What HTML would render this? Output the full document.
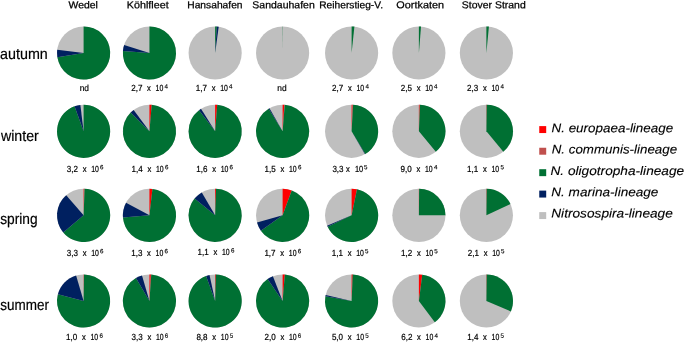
<!DOCTYPE html>
<html lang="en"><head><meta charset="utf-8"><title>AOB lineage pie charts</title>
<style>
html,body{margin:0;padding:0;background:#fff;}
svg{display:block;}
.v{stroke:#000;stroke-width:0.2px;}
.h{stroke:#000;stroke-width:0.25px;}
.r{stroke:#000;stroke-width:0.2px;}
.l{stroke:#000;stroke-width:0.12px;}
text{font-family:"Liberation Sans",sans-serif;fill:#000;text-rendering:geometricPrecision;}
</style></head>
<body>
<svg width="685" height="343" viewBox="0 0 685 343">
<rect width="685" height="343" fill="#fff"/>
<g>
<circle cx="83.6" cy="53.0" r="26.58" fill="#BFBFBF"/>
<path d="M83.6 53.0L83.60 26.42A26.58 26.58 0 1 1 57.36 57.25Z" fill="#007033"/>
<path d="M83.6 53.0L57.36 57.25A26.58 26.58 0 0 1 57.21 49.85Z" fill="#002060"/>
<circle cx="149.45" cy="53.0" r="26.58" fill="#BFBFBF"/>
<path d="M149.45 53.0L149.45 26.42A26.58 26.58 0 1 1 122.95 50.96Z" fill="#007033"/>
<path d="M149.45 53.0L122.95 50.96A26.58 26.58 0 0 1 124.11 44.96Z" fill="#002060"/>
<circle cx="215.15" cy="53.0" r="26.58" fill="#BFBFBF"/>
<path d="M215.15 53.0L215.15 26.42A26.58 26.58 0 0 1 216.82 26.47Z" fill="#007033"/>
<path d="M215.15 53.0L216.82 26.47A26.58 26.58 0 0 1 218.71 26.66Z" fill="#002060"/>
<circle cx="282.6" cy="53.0" r="26.58" fill="#BFBFBF"/>
<path d="M282.6 53.0L282.60 26.42A26.58 26.58 0 0 1 282.88 26.42Z" fill="#007033"/>
<circle cx="351.6" cy="53.0" r="26.58" fill="#BFBFBF"/>
<path d="M351.6 53.0L351.60 26.42A26.58 26.58 0 0 1 354.42 26.57Z" fill="#007033"/>
<circle cx="418.9" cy="53.0" r="26.58" fill="#BFBFBF"/>
<path d="M418.9 53.0L418.90 26.42A26.58 26.58 0 0 1 421.03 26.51Z" fill="#007033"/>
<circle cx="486.4" cy="53.0" r="26.58" fill="#BFBFBF"/>
<path d="M486.4 53.0L486.40 26.42A26.58 26.58 0 0 1 488.90 26.54Z" fill="#007033"/>
<circle cx="83.6" cy="131.3" r="26.58" fill="#BFBFBF"/>
<path d="M83.6 131.3L83.60 104.72A26.58 26.58 0 1 1 74.51 106.32Z" fill="#007033"/>
<path d="M83.6 131.3L74.51 106.32A26.58 26.58 0 0 1 80.36 104.92Z" fill="#002060"/>
<circle cx="149.45" cy="131.3" r="26.58" fill="#BFBFBF"/>
<path d="M149.45 131.3L149.45 104.72A26.58 26.58 0 0 1 151.72 104.82Z" fill="#FF0000"/>
<path d="M149.45 131.3L151.72 104.82A26.58 26.58 0 1 1 130.66 112.51Z" fill="#007033"/>
<path d="M149.45 131.3L130.66 112.51A26.58 26.58 0 0 1 133.64 109.93Z" fill="#002060"/>
<circle cx="215.15" cy="131.3" r="26.58" fill="#BFBFBF"/>
<path d="M215.15 131.3L215.15 104.72A26.58 26.58 0 0 1 217.24 104.80Z" fill="#FF0000"/>
<path d="M215.15 131.3L217.24 104.80A26.58 26.58 0 1 1 199.04 110.16Z" fill="#007033"/>
<path d="M215.15 131.3L199.04 110.16A26.58 26.58 0 0 1 200.99 108.81Z" fill="#002060"/>
<circle cx="282.6" cy="131.3" r="26.58" fill="#BFBFBF"/>
<path d="M282.6 131.3L282.60 104.72A26.58 26.58 0 0 1 284.36 104.78Z" fill="#FF0000"/>
<path d="M282.6 131.3L284.36 104.78A26.58 26.58 0 0 1 284.78 104.81Z" fill="#C0504D"/>
<path d="M282.6 131.3L284.78 104.81A26.58 26.58 0 1 1 268.67 108.66Z" fill="#007033"/>
<path d="M282.6 131.3L268.67 108.66A26.58 26.58 0 0 1 269.47 108.19Z" fill="#002060"/>
<circle cx="351.6" cy="131.3" r="26.58" fill="#BFBFBF"/>
<path d="M351.6 131.3L351.60 104.72A26.58 26.58 0 0 1 352.57 104.74Z" fill="#FF0000"/>
<path d="M351.6 131.3L352.57 104.74A26.58 26.58 0 0 1 353.08 104.76Z" fill="#C0504D"/>
<path d="M351.6 131.3L353.08 104.76A26.58 26.58 0 0 1 365.29 154.08Z" fill="#007033"/>
<path d="M351.6 131.3L365.29 154.08A26.58 26.58 0 0 1 364.97 154.27Z" fill="#002060"/>
<circle cx="418.9" cy="131.3" r="26.58" fill="#BFBFBF"/>
<path d="M418.9 131.3L418.90 104.72A26.58 26.58 0 0 1 419.60 104.73Z" fill="#FF0000"/>
<path d="M418.9 131.3L419.60 104.73A26.58 26.58 0 0 1 420.01 104.74Z" fill="#C0504D"/>
<path d="M418.9 131.3L420.01 104.74A26.58 26.58 0 0 1 435.84 151.78Z" fill="#007033"/>
<circle cx="486.4" cy="131.3" r="26.58" fill="#BFBFBF"/>
<path d="M486.4 131.3L486.40 104.72A26.58 26.58 0 0 1 486.72 104.72Z" fill="#FF0000"/>
<path d="M486.4 131.3L486.72 104.72A26.58 26.58 0 0 1 503.34 151.78Z" fill="#007033"/>
<circle cx="83.6" cy="215.35" r="26.58" fill="#BFBFBF"/>
<path d="M83.6 215.35L83.60 188.77A26.58 26.58 0 0 1 84.16 188.78Z" fill="#FF0000"/>
<path d="M83.6 215.35L84.16 188.78A26.58 26.58 0 0 1 84.62 188.79Z" fill="#C0504D"/>
<path d="M83.6 215.35L84.62 188.79A26.58 26.58 0 1 1 63.21 232.40Z" fill="#007033"/>
<path d="M83.6 215.35L63.21 232.40A26.58 26.58 0 0 1 66.20 195.26Z" fill="#002060"/>
<circle cx="149.45" cy="215.35" r="26.58" fill="#BFBFBF"/>
<path d="M149.45 215.35L149.45 188.77A26.58 26.58 0 0 1 152.46 188.94Z" fill="#FF0000"/>
<path d="M149.45 215.35L152.46 188.94A26.58 26.58 0 1 1 122.95 217.39Z" fill="#007033"/>
<path d="M149.45 215.35L122.95 217.39A26.58 26.58 0 0 1 126.05 202.75Z" fill="#002060"/>
<circle cx="215.15" cy="215.35" r="26.58" fill="#BFBFBF"/>
<path d="M215.15 215.35L215.15 188.77A26.58 26.58 0 0 1 216.08 188.79Z" fill="#FF0000"/>
<path d="M215.15 215.35L216.08 188.79A26.58 26.58 0 1 1 194.55 198.55Z" fill="#007033"/>
<path d="M215.15 215.35L194.55 198.55A26.58 26.58 0 0 1 201.78 192.38Z" fill="#002060"/>
<circle cx="282.6" cy="215.35" r="26.58" fill="#BFBFBF"/>
<path d="M282.6 215.35L282.60 188.77A26.58 26.58 0 0 1 291.73 190.39Z" fill="#FF0000"/>
<path d="M282.6 215.35L291.73 190.39A26.58 26.58 0 1 1 260.85 230.63Z" fill="#007033"/>
<path d="M282.6 215.35L260.85 230.63A26.58 26.58 0 0 1 257.02 222.59Z" fill="#002060"/>
<circle cx="351.6" cy="215.35" r="26.58" fill="#BFBFBF"/>
<path d="M351.6 215.35L351.60 188.77A26.58 26.58 0 0 1 356.99 189.32Z" fill="#FF0000"/>
<path d="M351.6 215.35L356.99 189.32A26.58 26.58 0 1 1 327.63 226.83Z" fill="#007033"/>
<path d="M351.6 215.35L327.63 226.83A26.58 26.58 0 0 1 327.10 225.65Z" fill="#002060"/>
<circle cx="418.9" cy="215.35" r="26.58" fill="#BFBFBF"/>
<path d="M418.9 215.35L418.90 188.77A26.58 26.58 0 0 1 419.13 188.77Z" fill="#FF0000"/>
<path d="M418.9 215.35L419.13 188.77A26.58 26.58 0 0 1 445.48 215.35Z" fill="#007033"/>
<circle cx="486.4" cy="215.35" r="26.58" fill="#BFBFBF"/>
<path d="M486.4 215.35L486.40 188.77A26.58 26.58 0 0 1 486.72 188.77Z" fill="#FF0000"/>
<path d="M486.4 215.35L486.72 188.77A26.58 26.58 0 0 1 510.45 204.03Z" fill="#007033"/>
<circle cx="83.6" cy="301.0" r="26.58" fill="#BFBFBF"/>
<path d="M83.6 301.0L83.60 274.42A26.58 26.58 0 0 1 83.81 274.42Z" fill="#FF0000"/>
<path d="M83.6 301.0L83.81 274.42A26.58 26.58 0 0 1 84.02 274.42Z" fill="#C0504D"/>
<path d="M83.6 301.0L84.02 274.42A26.58 26.58 0 1 1 57.91 294.17Z" fill="#007033"/>
<path d="M83.6 301.0L57.91 294.17A26.58 26.58 0 0 1 76.10 275.50Z" fill="#002060"/>
<circle cx="149.45" cy="301.0" r="26.58" fill="#BFBFBF"/>
<path d="M149.45 301.0L149.45 274.42A26.58 26.58 0 0 1 150.89 274.46Z" fill="#FF0000"/>
<path d="M149.45 301.0L150.89 274.46A26.58 26.58 0 0 1 151.26 274.48Z" fill="#C0504D"/>
<path d="M149.45 301.0L151.26 274.48A26.58 26.58 0 1 1 135.92 278.12Z" fill="#007033"/>
<path d="M149.45 301.0L135.92 278.12A26.58 26.58 0 0 1 141.99 275.49Z" fill="#002060"/>
<circle cx="215.15" cy="301.0" r="26.58" fill="#BFBFBF"/>
<path d="M215.15 301.0L215.15 274.42A26.58 26.58 0 0 1 215.85 274.43Z" fill="#FF0000"/>
<path d="M215.15 301.0L215.85 274.43A26.58 26.58 0 1 1 206.06 276.02Z" fill="#007033"/>
<path d="M215.15 301.0L206.06 276.02A26.58 26.58 0 0 1 209.53 275.02Z" fill="#002060"/>
<circle cx="282.6" cy="301.0" r="26.58" fill="#BFBFBF"/>
<path d="M282.6 301.0L282.60 274.42A26.58 26.58 0 0 1 284.87 274.52Z" fill="#FF0000"/>
<path d="M282.6 301.0L284.87 274.52A26.58 26.58 0 1 1 267.58 279.07Z" fill="#007033"/>
<path d="M282.6 301.0L267.58 279.07A26.58 26.58 0 0 1 272.90 276.25Z" fill="#002060"/>
<circle cx="351.6" cy="301.0" r="26.58" fill="#BFBFBF"/>
<path d="M351.6 301.0L351.60 274.42A26.58 26.58 0 0 1 352.76 274.45Z" fill="#FF0000"/>
<path d="M351.6 301.0L352.76 274.45A26.58 26.58 0 1 1 325.44 296.29Z" fill="#007033"/>
<path d="M351.6 301.0L325.44 296.29A26.58 26.58 0 0 1 325.69 295.07Z" fill="#002060"/>
<circle cx="418.9" cy="301.0" r="26.58" fill="#BFBFBF"/>
<path d="M418.9 301.0L418.90 274.42A26.58 26.58 0 0 1 422.23 274.63Z" fill="#FF0000"/>
<path d="M418.9 301.0L422.23 274.63A26.58 26.58 0 0 1 434.82 322.28Z" fill="#007033"/>
<circle cx="486.4" cy="301.0" r="26.58" fill="#BFBFBF"/>
<path d="M486.4 301.0L486.40 274.42A26.58 26.58 0 0 1 486.72 274.42Z" fill="#FF0000"/>
<path d="M486.4 301.0L486.72 274.42A26.58 26.58 0 0 1 510.87 311.39Z" fill="#007033"/>
</g>
<g transform="matrix(1 0.0005 0 1 0 0)">
<text x="68.54" y="8.27" font-size="10.0" class="h" textLength="29.37" lengthAdjust="spacingAndGlyphs">Wedel</text>
<text x="126.89" y="8.24" font-size="10.0" class="h" textLength="41.74" lengthAdjust="spacingAndGlyphs">Köhlfleet</text>
<text x="187.23" y="8.21" font-size="10.0" class="h" textLength="55.34" lengthAdjust="spacingAndGlyphs">Hansahafen</text>
<text x="252.39" y="8.17" font-size="10.0" class="h" textLength="62.40" lengthAdjust="spacingAndGlyphs">Sandauhafen</text>
<text x="319.23" y="8.14" font-size="10.0" class="h" textLength="63.76" lengthAdjust="spacingAndGlyphs">Reiherstieg-V.</text>
<text x="396.35" y="8.1" font-size="10.0" class="h" textLength="47.72" lengthAdjust="spacingAndGlyphs">Oortkaten</text>
<text x="461.89" y="8.07" font-size="10.0" class="h" textLength="63.87" lengthAdjust="spacingAndGlyphs">Stover Strand</text>
<text x="0.05" y="59.4" font-size="15.3" class="r" textLength="47.71" lengthAdjust="spacingAndGlyphs">autumn</text>
<text x="0.92" y="140.5" font-size="15.3" class="r" textLength="37.91" lengthAdjust="spacingAndGlyphs">winter</text>
<text x="0.17" y="223.8" font-size="15.3" class="r" textLength="37.39" lengthAdjust="spacingAndGlyphs">spring</text>
<text x="0.21" y="310.0" font-size="15.3" class="r" textLength="48.70" lengthAdjust="spacingAndGlyphs">summer</text>
<text x="79.7" y="91.06" font-size="8.8" class="v" textLength="9.3" lengthAdjust="spacingAndGlyphs">nd</text>
<text y="91.03" font-size="8.8" class="v"><tspan x="131.2" textLength="11.2" lengthAdjust="spacingAndGlyphs">2,7</tspan><tspan x="147.1" textLength="3.8" lengthAdjust="spacingAndGlyphs">x</tspan><tspan x="155.6" textLength="7.7" lengthAdjust="spacingAndGlyphs">10</tspan><tspan x="164.5" dy="-2.6" font-size="6.2" stroke-width="0.14">4</tspan></text>
<text y="90.99" font-size="8.8" class="v"><tspan x="195.8" textLength="11.2" lengthAdjust="spacingAndGlyphs">1,7</tspan><tspan x="211.7" textLength="3.8" lengthAdjust="spacingAndGlyphs">x</tspan><tspan x="220.2" textLength="7.7" lengthAdjust="spacingAndGlyphs">10</tspan><tspan x="229.1" dy="-2.6" font-size="6.2" stroke-width="0.14">4</tspan></text>
<text x="277.3" y="90.96" font-size="8.8" class="v" textLength="9.3" lengthAdjust="spacingAndGlyphs">nd</text>
<text y="90.92" font-size="8.8" class="v"><tspan x="332.1" textLength="11.2" lengthAdjust="spacingAndGlyphs">2,7</tspan><tspan x="348.0" textLength="3.8" lengthAdjust="spacingAndGlyphs">x</tspan><tspan x="356.5" textLength="7.7" lengthAdjust="spacingAndGlyphs">10</tspan><tspan x="365.4" dy="-2.6" font-size="6.2" stroke-width="0.14">4</tspan></text>
<text y="90.89" font-size="8.8" class="v"><tspan x="400.8" textLength="11.2" lengthAdjust="spacingAndGlyphs">2,5</tspan><tspan x="416.7" textLength="3.8" lengthAdjust="spacingAndGlyphs">x</tspan><tspan x="425.2" textLength="7.7" lengthAdjust="spacingAndGlyphs">10</tspan><tspan x="434.1" dy="-2.6" font-size="6.2" stroke-width="0.14">4</tspan></text>
<text y="90.86" font-size="8.8" class="v"><tspan x="467.1" textLength="11.2" lengthAdjust="spacingAndGlyphs">2,3</tspan><tspan x="483.0" textLength="3.8" lengthAdjust="spacingAndGlyphs">x</tspan><tspan x="491.5" textLength="7.7" lengthAdjust="spacingAndGlyphs">10</tspan><tspan x="500.4" dy="-2.6" font-size="6.2" stroke-width="0.14">4</tspan></text>
<text y="171.86" font-size="8.8" class="v"><tspan x="66.8" textLength="11.2" lengthAdjust="spacingAndGlyphs">3,2</tspan><tspan x="82.7" textLength="3.8" lengthAdjust="spacingAndGlyphs">x</tspan><tspan x="91.2" textLength="7.7" lengthAdjust="spacingAndGlyphs">10</tspan><tspan x="100.1" dy="-2.6" font-size="6.2" stroke-width="0.14">6</tspan></text>
<text y="171.83" font-size="8.8" class="v"><tspan x="131.6" textLength="11.2" lengthAdjust="spacingAndGlyphs">1,4</tspan><tspan x="147.5" textLength="3.8" lengthAdjust="spacingAndGlyphs">x</tspan><tspan x="156.0" textLength="7.7" lengthAdjust="spacingAndGlyphs">10</tspan><tspan x="164.9" dy="-2.6" font-size="6.2" stroke-width="0.14">6</tspan></text>
<text y="171.79" font-size="8.8" class="v"><tspan x="196.3" textLength="11.2" lengthAdjust="spacingAndGlyphs">1,6</tspan><tspan x="212.2" textLength="3.8" lengthAdjust="spacingAndGlyphs">x</tspan><tspan x="220.7" textLength="7.7" lengthAdjust="spacingAndGlyphs">10</tspan><tspan x="229.6" dy="-2.6" font-size="6.2" stroke-width="0.14">6</tspan></text>
<text y="171.76" font-size="8.8" class="v"><tspan x="264.6" textLength="11.2" lengthAdjust="spacingAndGlyphs">1,5</tspan><tspan x="280.5" textLength="3.8" lengthAdjust="spacingAndGlyphs">x</tspan><tspan x="289.0" textLength="7.7" lengthAdjust="spacingAndGlyphs">10</tspan><tspan x="297.9" dy="-2.6" font-size="6.2" stroke-width="0.14">6</tspan></text>
<text y="171.73" font-size="8.8" class="v"><tspan x="332.4" textLength="11.2" lengthAdjust="spacingAndGlyphs">3,3</tspan><tspan x="346.0" textLength="3.8" lengthAdjust="spacingAndGlyphs">x</tspan><tspan x="354.9" textLength="8.3" lengthAdjust="spacingAndGlyphs">10</tspan><tspan x="364.1" dy="-2.6" font-size="6.2" stroke-width="0.14">5</tspan></text>
<text y="171.69" font-size="8.8" class="v"><tspan x="400.6" textLength="11.2" lengthAdjust="spacingAndGlyphs">9,0</tspan><tspan x="416.5" textLength="3.8" lengthAdjust="spacingAndGlyphs">x</tspan><tspan x="425.0" textLength="7.7" lengthAdjust="spacingAndGlyphs">10</tspan><tspan x="433.9" dy="-2.6" font-size="6.2" stroke-width="0.14">4</tspan></text>
<text y="171.66" font-size="8.8" class="v"><tspan x="467.1" textLength="11.2" lengthAdjust="spacingAndGlyphs">1,1</tspan><tspan x="483.0" textLength="3.8" lengthAdjust="spacingAndGlyphs">x</tspan><tspan x="491.5" textLength="7.7" lengthAdjust="spacingAndGlyphs">10</tspan><tspan x="500.4" dy="-2.6" font-size="6.2" stroke-width="0.14">5</tspan></text>
<text y="255.86" font-size="8.8" class="v"><tspan x="66.8" textLength="11.2" lengthAdjust="spacingAndGlyphs">3,3</tspan><tspan x="82.7" textLength="3.8" lengthAdjust="spacingAndGlyphs">x</tspan><tspan x="91.2" textLength="7.7" lengthAdjust="spacingAndGlyphs">10</tspan><tspan x="100.1" dy="-2.6" font-size="6.2" stroke-width="0.14">6</tspan></text>
<text y="255.83" font-size="8.8" class="v"><tspan x="131.2" textLength="11.2" lengthAdjust="spacingAndGlyphs">1,3</tspan><tspan x="147.1" textLength="3.8" lengthAdjust="spacingAndGlyphs">x</tspan><tspan x="155.6" textLength="7.7" lengthAdjust="spacingAndGlyphs">10</tspan><tspan x="164.5" dy="-2.6" font-size="6.2" stroke-width="0.14">6</tspan></text>
<text y="254.89" font-size="8.8" class="v"><tspan x="197.6" textLength="11.2" lengthAdjust="spacingAndGlyphs">1,1</tspan><tspan x="213.5" textLength="3.8" lengthAdjust="spacingAndGlyphs">x</tspan><tspan x="222.0" textLength="7.7" lengthAdjust="spacingAndGlyphs">10</tspan><tspan x="230.9" dy="-2.6" font-size="6.2" stroke-width="0.14">6</tspan></text>
<text y="255.76" font-size="8.8" class="v"><tspan x="264.4" textLength="11.2" lengthAdjust="spacingAndGlyphs">1,7</tspan><tspan x="280.3" textLength="3.8" lengthAdjust="spacingAndGlyphs">x</tspan><tspan x="288.8" textLength="7.7" lengthAdjust="spacingAndGlyphs">10</tspan><tspan x="297.7" dy="-2.6" font-size="6.2" stroke-width="0.14">6</tspan></text>
<text y="255.72" font-size="8.8" class="v"><tspan x="331.8" textLength="11.2" lengthAdjust="spacingAndGlyphs">1,1</tspan><tspan x="347.7" textLength="3.8" lengthAdjust="spacingAndGlyphs">x</tspan><tspan x="356.2" textLength="7.7" lengthAdjust="spacingAndGlyphs">10</tspan><tspan x="365.1" dy="-2.6" font-size="6.2" stroke-width="0.14">5</tspan></text>
<text y="255.69" font-size="8.8" class="v"><tspan x="401.0" textLength="11.2" lengthAdjust="spacingAndGlyphs">1,2</tspan><tspan x="416.9" textLength="3.8" lengthAdjust="spacingAndGlyphs">x</tspan><tspan x="425.4" textLength="7.7" lengthAdjust="spacingAndGlyphs">10</tspan><tspan x="434.3" dy="-2.6" font-size="6.2" stroke-width="0.14">5</tspan></text>
<text y="255.66" font-size="8.8" class="v"><tspan x="467.8" textLength="11.2" lengthAdjust="spacingAndGlyphs">2,1</tspan><tspan x="483.7" textLength="3.8" lengthAdjust="spacingAndGlyphs">x</tspan><tspan x="492.2" textLength="7.7" lengthAdjust="spacingAndGlyphs">10</tspan><tspan x="501.1" dy="-2.6" font-size="6.2" stroke-width="0.14">5</tspan></text>
<text y="340.36" font-size="8.8" class="v"><tspan x="66.1" textLength="11.2" lengthAdjust="spacingAndGlyphs">1,0</tspan><tspan x="82.0" textLength="3.8" lengthAdjust="spacingAndGlyphs">x</tspan><tspan x="90.5" textLength="7.7" lengthAdjust="spacingAndGlyphs">10</tspan><tspan x="99.4" dy="-2.6" font-size="6.2" stroke-width="0.14">6</tspan></text>
<text y="340.33" font-size="8.8" class="v"><tspan x="131.5" textLength="11.2" lengthAdjust="spacingAndGlyphs">3,3</tspan><tspan x="147.4" textLength="3.8" lengthAdjust="spacingAndGlyphs">x</tspan><tspan x="155.9" textLength="7.7" lengthAdjust="spacingAndGlyphs">10</tspan><tspan x="164.8" dy="-2.6" font-size="6.2" stroke-width="0.14">6</tspan></text>
<text y="340.29" font-size="8.8" class="v"><tspan x="196.4" textLength="11.2" lengthAdjust="spacingAndGlyphs">8,8</tspan><tspan x="212.3" textLength="3.8" lengthAdjust="spacingAndGlyphs">x</tspan><tspan x="220.8" textLength="7.7" lengthAdjust="spacingAndGlyphs">10</tspan><tspan x="229.7" dy="-2.6" font-size="6.2" stroke-width="0.14">5</tspan></text>
<text y="340.26" font-size="8.8" class="v"><tspan x="264.5" textLength="11.2" lengthAdjust="spacingAndGlyphs">2,0</tspan><tspan x="280.4" textLength="3.8" lengthAdjust="spacingAndGlyphs">x</tspan><tspan x="288.9" textLength="7.7" lengthAdjust="spacingAndGlyphs">10</tspan><tspan x="297.8" dy="-2.6" font-size="6.2" stroke-width="0.14">6</tspan></text>
<text y="340.22" font-size="8.8" class="v"><tspan x="331.9" textLength="11.2" lengthAdjust="spacingAndGlyphs">5,0</tspan><tspan x="347.8" textLength="3.8" lengthAdjust="spacingAndGlyphs">x</tspan><tspan x="356.3" textLength="7.7" lengthAdjust="spacingAndGlyphs">10</tspan><tspan x="365.2" dy="-2.6" font-size="6.2" stroke-width="0.14">5</tspan></text>
<text y="340.19" font-size="8.8" class="v"><tspan x="401.2" textLength="11.2" lengthAdjust="spacingAndGlyphs">6,2</tspan><tspan x="417.1" textLength="3.8" lengthAdjust="spacingAndGlyphs">x</tspan><tspan x="425.6" textLength="7.7" lengthAdjust="spacingAndGlyphs">10</tspan><tspan x="434.5" dy="-2.6" font-size="6.2" stroke-width="0.14">4</tspan></text>
<text y="340.16" font-size="8.8" class="v"><tspan x="467.2" textLength="11.2" lengthAdjust="spacingAndGlyphs">1,4</tspan><tspan x="483.1" textLength="3.8" lengthAdjust="spacingAndGlyphs">x</tspan><tspan x="491.6" textLength="7.7" lengthAdjust="spacingAndGlyphs">10</tspan><tspan x="500.5" dy="-2.6" font-size="6.2" stroke-width="0.14">5</tspan></text>
<text x="551.48" y="131.87" font-size="12.5" font-style="italic" class="l" textLength="121.74" lengthAdjust="spacingAndGlyphs">N. europaea-lineage</text>
<text x="551.70" y="153.22" font-size="12.5" font-style="italic" class="l" textLength="125.43" lengthAdjust="spacingAndGlyphs">N. communis-lineage</text>
<text x="550.51" y="174.72" font-size="12.5" font-style="italic" class="l" textLength="133.64" lengthAdjust="spacingAndGlyphs">N. oligotropha-lineage</text>
<text x="551.23" y="195.92" font-size="12.5" font-style="italic" class="l" textLength="107.21" lengthAdjust="spacingAndGlyphs">N. marina-lineage</text>
<text x="551.24" y="217.27" font-size="12.5" font-style="italic" class="l" textLength="121.60" lengthAdjust="spacingAndGlyphs">Nitrosospira-lineage</text>
</g>
<g>
<rect x="539.25" y="126.1" width="6.95" height="6.95" fill="#FF0000"/>
<rect x="539.25" y="147.75" width="6.95" height="6.95" fill="#C0504D"/>
<rect x="539.25" y="169.2" width="6.95" height="6.95" fill="#007033"/>
<rect x="539.25" y="190.6" width="6.95" height="6.95" fill="#002060"/>
<rect x="539.25" y="212.1" width="6.95" height="6.95" fill="#BFBFBF"/>
</g>
</svg>
</body></html>
